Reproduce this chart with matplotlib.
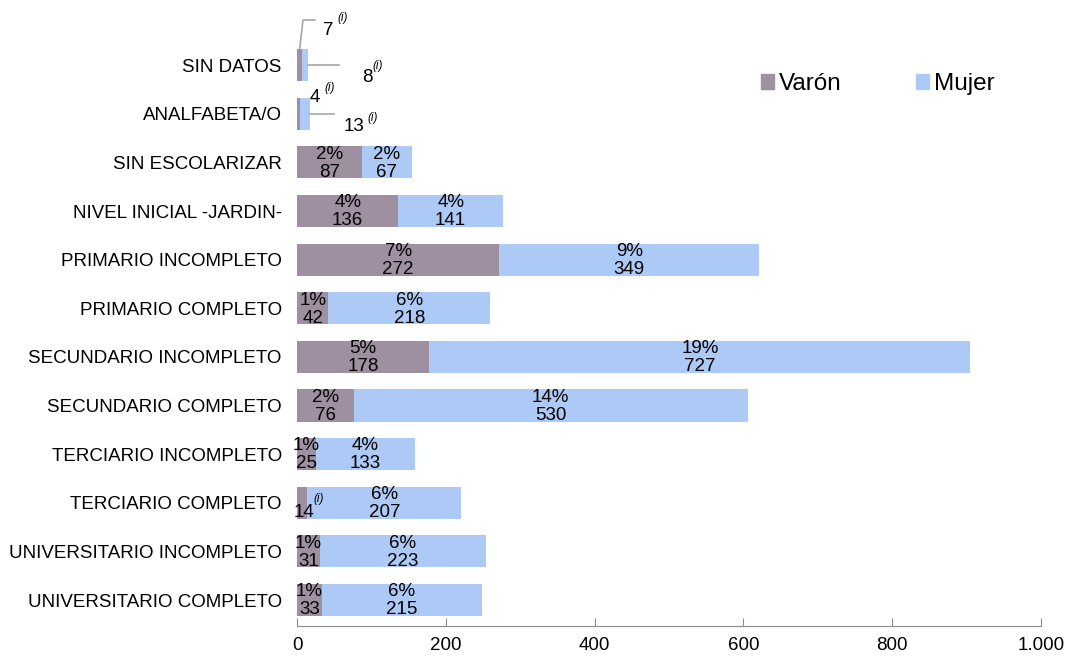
import matplotlib
matplotlib.use('Agg')
import matplotlib.pyplot as plt
from matplotlib.patches import Patch

plt.rcParams['font.family'] = ['Liberation Sans', 'DejaVu Sans']

categorias = ['SIN DATOS', 'ANALFABETA/O', 'SIN ESCOLARIZAR', 'NIVEL INICIAL -JARDIN-',
              'PRIMARIO INCOMPLETO', 'PRIMARIO COMPLETO', 'SECUNDARIO INCOMPLETO',
              'SECUNDARIO COMPLETO', 'TERCIARIO INCOMPLETO', 'TERCIARIO COMPLETO',
              'UNIVERSITARIO INCOMPLETO', 'UNIVERSITARIO COMPLETO']
varon = [7, 4, 87, 136, 272, 42, 178, 76, 25, 14, 31, 33]
mujer = [8, 13, 67, 141, 349, 218, 727, 530, 133, 207, 223, 215]
pct_varon = [None, None, '2%', '4%', '7%', '1%', '5%', '2%', '1%', None, '1%', '1%']
pct_mujer = [None, None, '2%', '4%', '9%', '6%', '19%', '14%', '4%', '6%', '6%', '6%']
xticks = [0, 200, 400, 600, 800, 1000]
xticklabels = ['0', '200', '400', '600', '800', '1.000']

COL_V = '#9E90A1'
COL_M = '#ADCAF6'

fig = plt.figure(figsize=(10.67, 6.56), dpi=100)
ax = fig.add_axes([0.2784, 0.0457, 0.6972, 0.892])

y = list(range(len(categorias)))
ax.barh(y, varon, height=0.66, color=COL_V)
ax.barh(y, mujer, left=varon, height=0.66, color=COL_M)

fs = 13.5
for i in y:
    if pct_varon[i] is not None and varon[i] > 15:
        cx = varon[i] / 2
        ax.text(cx, i - 0.17, pct_varon[i], ha='center', va='center', fontsize=fs)
        ax.text(cx, i + 0.2, str(varon[i]), ha='center', va='center', fontsize=fs)
    if pct_mujer[i] is not None and mujer[i] > 15:
        cx = varon[i] + mujer[i] / 2
        ax.text(cx, i - 0.17, pct_mujer[i], ha='center', va='center', fontsize=fs)
        ax.text(cx, i + 0.2, str(mujer[i]), ha='center', va='center', fontsize=fs)

# etiquetas de valores pequeños (i)
lc = '#A6A6A6'
sup = dict(fontsize=8.5, style='italic', ha='center', va='center')
# SIN DATOS - varón
ax.plot([varon[0] / 2, 8, 24], [-0.33, -0.93, -0.93], color=lc, lw=1.2, clip_on=False)
ax.text(42, -0.72, str(varon[0]), ha='center', va='center', fontsize=fs)
ax.text(61, -0.97, '(i)', **sup)
# SIN DATOS - mujer
ax.plot([varon[0] + mujer[0], 56], [0, 0], color=lc, lw=1.2, clip_on=False)
ax.text(94, 0.25, str(mujer[0]), ha='center', va='center', fontsize=fs)
ax.text(109, 0.02, '(i)', **sup)
# ANALFABETA/O - varón
ax.text(24, 0.66, str(varon[1]), ha='center', va='center', fontsize=fs)
ax.text(44, 0.47, '(i)', **sup)
# ANALFABETA/O - mujer
ax.plot([varon[1] + mujer[1], 50], [1, 1], color=lc, lw=1.2, clip_on=False)
ax.text(76, 1.26, str(mujer[1]), ha='center', va='center', fontsize=fs)
ax.text(102, 1.09, '(i)', **sup)
# TERCIARIO COMPLETO - varón
ax.text(9, 9.2, str(varon[9]), ha='center', va='center', fontsize=fs)
ax.text(29, 8.93, '(i)', **sup)

ax.set_yticks(y)
ax.set_yticklabels(categorias, fontsize=13.5)
ax.set_ylim(11.535, -0.5)
ax.set_xlim(0, 1000)
ax.set_xticks(xticks)
ax.set_xticklabels(xticklabels, fontsize=fs)
ax.tick_params(axis='y', length=0, pad=11)
ax.tick_params(axis='x', direction='in', length=6, color='#8C8C8C', pad=8)
for s in ['top', 'right', 'left']:
    ax.spines[s].set_visible(False)
ax.spines['bottom'].set_color('#8C8C8C')

handles = [Patch(color=COL_V, label='Varón'), Patch(color=COL_M, label='Mujer')]
ax.legend(handles=handles, loc='center left', bbox_to_anchor=(0.623, 0.926), ncol=2,
          frameon=False, fontsize=17.5, handlelength=0.55, handleheight=0.55,
          handletextpad=0.2, columnspacing=3.05, borderaxespad=0, borderpad=0)

fig.savefig('out.png', dpi=100)
